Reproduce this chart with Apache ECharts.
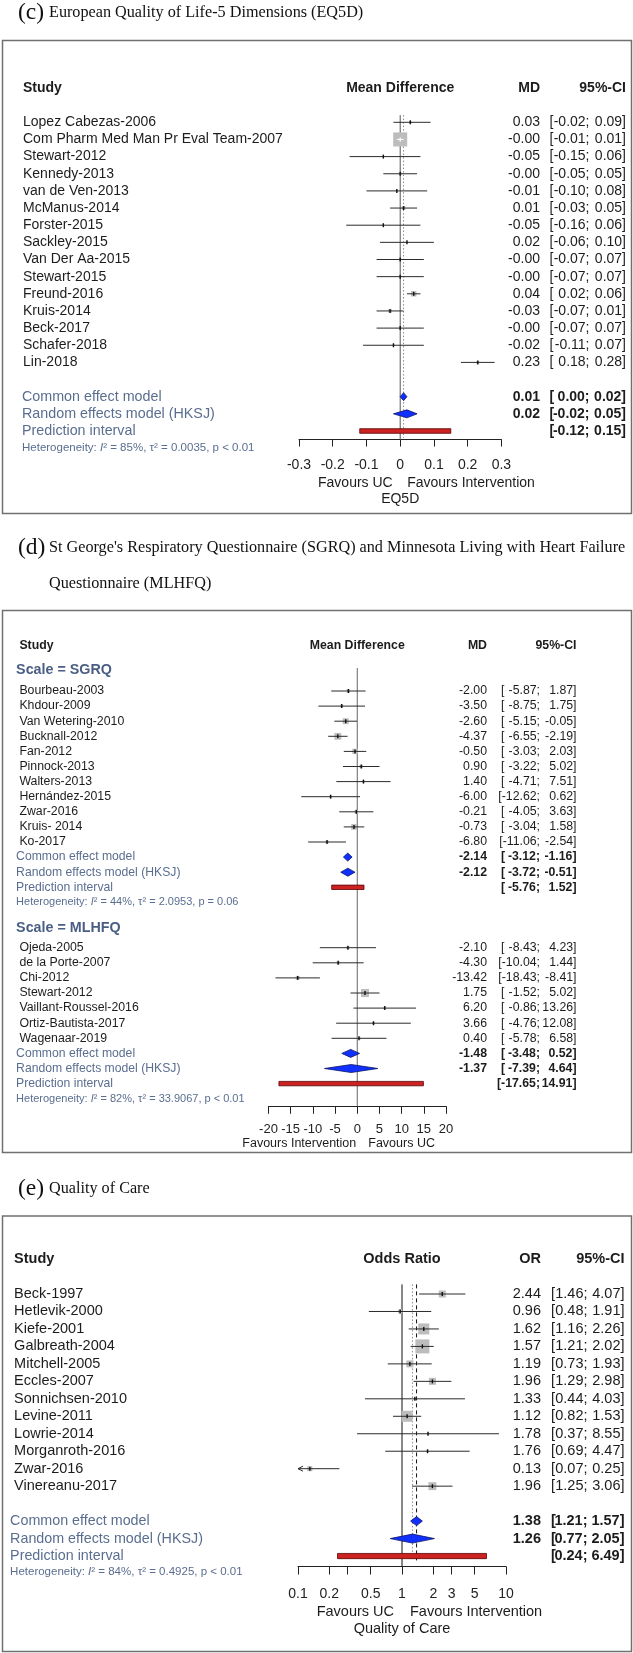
<!DOCTYPE html>
<html>
<head>
<meta charset="utf-8">
<script src="https://cdn.jsdelivr.net/npm/echarts@6/dist/echarts.min.js"></script>
<style>
html,body{margin:0;padding:0;background:#fff;}
#chart{width:633px;height:1653px;}
</style>
</head>
<body>
<div id="chart"></div>
<script>
// ---------------- Panel (c) EQ5D ----------------
const cStudies = ['Lopez Cabezas-2006','Com Pharm Med Man Pr Eval Team-2007','Stewart-2012','Kennedy-2013','van de Ven-2013','McManus-2014','Forster-2015','Sackley-2015','Van Der Aa-2015','Stewart-2015','Freund-2016','Kruis-2014','Beck-2017','Schafer-2018','Lin-2018'];
const cMD      = [0.03, -0.00, -0.05, -0.00, -0.01, 0.01, -0.05, 0.02, -0.00, -0.00, 0.04, -0.03, -0.00, -0.02, 0.23];
const cLower   = [-0.02, -0.01, -0.15, -0.05, -0.10, -0.03, -0.16, -0.06, -0.07, -0.07, 0.02, -0.07, -0.07, -0.11, 0.18];
const cUpper   = [0.09, 0.01, 0.06, 0.05, 0.08, 0.05, 0.06, 0.10, 0.07, 0.07, 0.06, 0.01, 0.07, 0.07, 0.28];
const cWeights = [2.1, 62.2, 0.6, 2.5, 0.8, 3.9, 0.5, 1.0, 1.3, 1.3, 9.5, 3.9, 1.3, 0.8, 2.5];
const cSummaryLabels = ['Common effect model','Random effects model (HKSJ)','Prediction interval'];
const cSummaryEst   = [0.01, 0.02, null];
const cSummaryLower = [0.00, -0.02, -0.12];
const cSummaryUpper = [0.02, 0.05, 0.15];
const cHeterogeneity = ['85%', '0.0035', 'p < 0.01'];
const cTickLabels = [-0.3, -0.2, -0.1, 0, 0.1, 0.2, 0.3];

// ---------------- Panel (d) SGRQ / MLHFQ ----------------
const dSgrqStudies = ['Bourbeau-2003','Khdour-2009','Van Wetering-2010','Bucknall-2012','Fan-2012','Pinnock-2013','Walters-2013','Hernández-2015','Zwar-2016','Kruis- 2014','Ko-2017'];
const dSgrqMD      = [-2.00, -3.50, -2.60, -4.37, -0.50, 0.90, 1.40, -6.00, -0.21, -0.73, -6.80];
const dSgrqLower   = [-5.87, -8.75, -5.15, -6.55, -3.03, -3.22, -4.71, -12.62, -4.05, -3.04, -11.06];
const dSgrqUpper   = [1.87, 1.75, -0.05, -2.19, 2.03, 5.02, 7.51, 0.62, 3.63, 1.58, -2.54];
const dSgrqWeights = [4, 3, 12, 16, 10, 4, 2, 2, 4, 11, 3];
const dSgrqSummaryEst   = [-2.14, -2.12, null];
const dSgrqSummaryLower = [-3.12, -3.72, -5.76];
const dSgrqSummaryUpper = [-1.16, -0.51, 1.52];
const dSgrqHeterogeneity = ['44%', '2.0953', 'p = 0.06'];

const dMlhfqStudies = ['Ojeda-2005','de la Porte-2007','Chi-2012','Stewart-2012','Vaillant-Roussel-2016','Ortiz-Bautista-2017','Wagenaar-2019'];
const dMlhfqMD      = [-2.10, -4.30, -13.42, 1.75, 6.20, 3.66, 0.40];
const dMlhfqLower   = [-8.43, -10.04, -18.43, -1.52, -0.86, -4.76, -5.78];
const dMlhfqUpper   = [4.23, 1.44, -8.41, 5.02, 13.26, 12.08, 6.58];
const dMlhfqWeights = [3, 3, 5, 22, 2, 2, 3];
const dMlhfqSummaryEst   = [-1.48, -1.37, null];
const dMlhfqSummaryLower = [-3.48, -7.39, -17.65];
const dMlhfqSummaryUpper = [0.52, 4.64, 14.91];
const dMlhfqHeterogeneity = ['82%', '33.9067', 'p < 0.01'];
const dSubgroups = ['Scale = SGRQ', 'Scale = MLHFQ'];

// ---------------- Panel (e) Quality of Care ----------------
const eStudies = ['Beck-1997','Hetlevik-2000','Kiefe-2001','Galbreath-2004','Mitchell-2005','Eccles-2007','Sonnichsen-2010','Levine-2011','Lowrie-2014','Morganroth-2016','Zwar-2016','Vinereanu-2017'];
const eOR      = [2.44, 0.96, 1.62, 1.57, 1.19, 1.96, 1.33, 1.12, 1.78, 1.76, 0.13, 1.96];
const eLower   = [1.46, 0.48, 1.16, 1.21, 0.73, 1.29, 0.44, 0.82, 0.37, 0.69, 0.07, 1.25];
const eUpper   = [4.07, 1.91, 2.26, 2.02, 1.93, 2.98, 4.03, 1.53, 8.55, 4.47, 0.25, 3.06];
const eWeights = [7.0, 2.3, 17.2, 27.9, 7.0, 7.0, 0.6, 17.2, 0.6, 0.6, 3.6, 9.1];
const eSummaryEst   = [1.38, 1.26, null];
const eSummaryLower = [1.21, 0.77, 0.24];
const eSummaryUpper = [1.57, 2.05, 6.49];
const eHeterogeneity = ['84%', '0.4925', 'p < 0.01'];
const eTicks      = [0.1, 0.2, 0.3, 0.5, 1, 2, 3, 5, 10];
const eTickLabels = [0.1, 0.2, 0.5, 1, 2, 3, 5, 10];

const summaryLabels = ['Common effect model','Random effects model (HKSJ)','Prediction interval'];

// ---------------- styling ----------------
const FONT = '"Liberation Sans", Arial, Helvetica, sans-serif';
const SERIF = '"Liberation Serif", "Times New Roman", Times, serif';
const INK = '#1c1c1c';
const SLATE = '#5a6e90';
const SLATE_DARK = '#4a5e84';
const BOX_FILL = '#bdbdbd';
const DIAMOND_FILL = '#1030ff';
const DIAMOND_STROKE = '#0a1466';
const PRED_FILL = '#cc2222';
const PRED_STROKE = '#5a0000';
const TITLE_FS = 16.2;

function fmt(v) {
  const neg = v < 0 || Object.is(v, -0);
  return (neg ? '-' : '') + Math.abs(v).toFixed(2);
}
function txt(x, y, text, align, size, color, weight) {
  return {type: 'text', x: x, y: y, silent: true,
    style: {text: text, fill: color || INK, fontSize: size, fontFamily: FONT,
      fontWeight: weight || 'normal', align: align || 'left', verticalAlign: 'middle'}};
}
function ciParts(L, y, lo, hi, bold) {
  const w = bold ? 'bold' : 'normal';
  const loS = fmt(lo), hiS = fmt(hi);
  const out = [];
  if (loS.length >= 6) {
    out.push(txt(L.ciLo, y, '[' + loS + ';', 'right', L.fs, INK, w));
  } else {
    out.push(txt(L.ciOpen, y, '[', 'left', L.fs, INK, w));
    out.push(txt(L.ciLo, y, loS + ';', 'right', L.fs, INK, w));
  }
  out.push(txt(L.ciHi, y, hiS + ']', 'right', L.fs, INK, w));
  return out;
}
function hetText(x, y, vals, fs) {
  return {type: 'text', x: x, y: y, silent: true,
    style: {text: 'Heterogeneity: {it|I}² = ' + vals[0] + ', τ² = ' + vals[1] + ', ' + vals[2],
      fill: SLATE, fontSize: fs, fontFamily: FONT, align: 'left', verticalAlign: 'middle',
      rich: {it: {fontStyle: 'italic', fontSize: fs, fontFamily: FONT, fill: SLATE}}}};
}

// ---------------- layout per panel (pixel layout only) ----------------
const LC = {gi: 0, y0: 122.3, step: 17.15, ymin: -2.5, ymax: 18.5, left: 299, width: 202.4,
  xmin: -0.3, xmax: 0.3, ref: 0, nameX: 23, sumX: 22, estRight: 540, ciOpen: 549.5, ciLo: 589.5, ciHi: 626,
  fs: 14, sumFs: 14.3, hetFs: 11.5, hdrFs: 14, headerRow: -2, refTop: -0.42, refColor: '#555',
  maxBox: 14, minBox: 1.6, dh: 4, ph: 2.3};
const LD = {gi: 1, y0: 691, step: 15.1, ymin: -3.5, ymax: 27.5, left: 268.5, width: 177.5,
  xmin: -20, xmax: 20, ref: 0, nameX: 19.4, sumX: 16.1, estRight: 487, ciOpen: 501, ciLo: 540, ciHi: 576.5,
  fs: 12.3, sumFs: 12.2, hetFs: 11, hdrFs: 12.3, headerRow: -3, refTop: -1.52, refColor: '#666',
  maxBox: 8, minBox: 1.6, dh: 4, ph: 2.2};
const LE = {gi: 2, y0: 1294, step: 17.47, ymin: -2.5, ymax: 15.6, left: 298, width: 208,
  xmin: -1, xmax: 1, ref: 0, nameX: 14.1, sumX: 10.1, estRight: 541, ciOpen: 551, ciLo: 587.5, ciHi: 624.5,
  fs: 14.5, sumFs: 14.3, hetFs: 11.5, hdrFs: 14.5, headerRow: -2, refTop: -0.55, refColor: '#111',
  maxBox: 14, minBox: 1.6, dh: 4.5, ph: 2.6};

// ---------------- panel definitions ----------------
const PC = {log: false, names: cStudies, est: cMD, lo: cLower, hi: cUpper, w: cWeights,
  rows: cStudies.map((_, i) => i),
  sumEst: cSummaryEst, sumLo: cSummaryLower, sumHi: cSummaryUpper, sumLabels: cSummaryLabels,
  sumRows: [16, 17, 18], sumKind: [0, 1, 2],
  het: [{row: 19, vals: cHeterogeneity}], groups: [],
  effectLabel: 'Mean Difference', estLabel: 'MD',
  refLines: [{v: cSummaryEst[0], dash: [1.5, 2], color: '#8a8a8a', bottom: 18.4}],
  fav: {left: 'Favours UC', right: 'Favours Intervention', row: 21.03, gapL: 7.5, gapR: 7, title: 'EQ5D', titleRow: 21.97, fs: 14}};

const dGap = 17;
const PD = {log: false,
  names: dSgrqStudies.concat(dMlhfqStudies),
  est: dSgrqMD.concat(dMlhfqMD), lo: dSgrqLower.concat(dMlhfqLower), hi: dSgrqUpper.concat(dMlhfqUpper),
  w: dSgrqWeights.concat(dMlhfqWeights),
  rows: dSgrqStudies.map((_, i) => i).concat(dMlhfqStudies.map((_, i) => dGap + i)),
  sumEst: dSgrqSummaryEst.concat(dMlhfqSummaryEst),
  sumLo: dSgrqSummaryLower.concat(dMlhfqSummaryLower),
  sumHi: dSgrqSummaryUpper.concat(dMlhfqSummaryUpper),
  sumLabels: summaryLabels.concat(summaryLabels),
  sumRows: [11, 12, 13, dGap + 7, dGap + 8, dGap + 9], sumKind: [0, 1, 2, 0, 1, 2],
  het: [{row: 14, vals: dSgrqHeterogeneity}, {row: dGap + 10, vals: dMlhfqHeterogeneity}],
  groups: [{label: dSubgroups[0], row: -1.4}, {label: dSubgroups[1], row: 15.72}],
  effectLabel: 'Mean Difference', estLabel: 'MD', refLines: [],
  fav: {left: 'Favours Intervention', right: 'Favours UC', row: 29.97, gapL: 1, gapR: 11, title: null, fs: 12.5}};

const PE = {log: true, names: eStudies, est: eOR, lo: eLower, hi: eUpper, w: eWeights,
  rows: eStudies.map((_, i) => i),
  sumEst: eSummaryEst, sumLo: eSummaryLower, sumHi: eSummaryUpper, sumLabels: summaryLabels,
  sumRows: [13, 14, 15], sumKind: [0, 1, 2],
  het: [{row: 15.9, vals: eHeterogeneity}], groups: [],
  effectLabel: 'Odds Ratio', estLabel: 'OR',
  refLines: [{v: Math.log10(eSummaryEst[1]), dash: [1.5, 2], color: '#8a8a8a', bottom: 15.25},
             {v: Math.log10(eSummaryEst[0]), dash: [4, 3], color: '#111', bottom: 15.25}],
  fav: {left: 'Favours UC', right: 'Favours Intervention', row: 18.2, gapL: 8, gapR: 8, title: 'Quality of Care', titleRow: 19.18, fs: 14.5}};

// ---------------- series builders ----------------
function buildSeries(L, P) {
  const tx = v => (P.log ? Math.log10(v) : v);
  const wMax = Math.max.apply(null, P.w);
  const studyData = P.est.map((e, i) => [tx(e), tx(P.lo[i]), tx(P.hi[i]), P.rows[i], P.w[i], i]);
  const sumData = P.sumLo.map((lo, k) => [tx(P.sumEst[k] == null ? lo : P.sumEst[k]), tx(lo), tx(P.sumHi[k]), P.sumRows[k], P.sumKind[k], k]);
  const base = {type: 'custom', coordinateSystem: 'cartesian2d', xAxisIndex: L.gi, yAxisIndex: L.gi,
    silent: true, clip: false, animation: false};

  const studies = Object.assign({}, base, {
    data: studyData, encode: {x: [0, 1, 2], y: 3}, z: 3,
    renderItem: function (params, api) {
      const i = api.value(5), row = api.value(3);
      const e = api.value(0), lo = api.value(1), hi = api.value(2);
      const y = api.coord([L.ref, row])[1];
      const xe = api.coord([e, row])[0];
      const xl = api.coord([Math.max(lo, L.xmin), row])[0];
      const xh = api.coord([Math.min(hi, L.xmax), row])[0];
      const s = Math.max(L.minBox, L.maxBox * Math.sqrt(api.value(4) / wMax));
      const inside = xl >= xe - s / 2 && xh <= xe + s / 2;
      const lineCol = inside ? '#ffffff' : '#2b2b2b';
      const ch = [];
      ch.push({type: 'rect', shape: {x: xe - s / 2, y: y - s / 2, width: s, height: s}, style: {fill: BOX_FILL}});
      ch.push({type: 'line', shape: {x1: xl, y1: y, x2: xh, y2: y}, style: {stroke: lineCol, lineWidth: 1}});
      ch.push({type: 'line', shape: {x1: xe, y1: y - 2, x2: xe, y2: y + 2}, style: {stroke: inside ? '#ffffff' : '#111', lineWidth: 1.4}});
      if (lo < L.xmin) {
        ch.push({type: 'polyline', shape: {points: [[xl + 5, y - 2.5], [xl, y], [xl + 5, y + 2.5]]}, style: {stroke: '#2b2b2b', fill: null, lineWidth: 1}});
      }
      ch.push(txt(L.nameX, y, P.names[i], 'left', L.fs, INK));
      ch.push(txt(L.estRight, y, fmt(P.est[i]), 'right', L.fs, INK));
      ciParts(L, y, P.lo[i], P.hi[i], false).forEach(t => ch.push(t));
      return {type: 'group', children: ch};
    }
  });

  const summary = Object.assign({}, base, {
    data: sumData, encode: {x: [0, 1, 2], y: 3}, z: 4,
    renderItem: function (params, api) {
      const k = api.value(5), row = api.value(3), kind = api.value(4);
      const y = api.coord([L.ref, row])[1];
      const xl = api.coord([api.value(1), row])[0];
      const xh = api.coord([api.value(2), row])[0];
      const ch = [];
      if (kind < 2) {
        const xe = api.coord([api.value(0), row])[0];
        ch.push({type: 'polygon', shape: {points: [[xl, y], [xe, y - L.dh], [xh, y], [xe, y + L.dh]]},
          style: {fill: DIAMOND_FILL, stroke: DIAMOND_STROKE, lineWidth: 0.8}});
        ch.push(txt(L.estRight, y, fmt(P.sumEst[k]), 'right', L.fs, INK, 'bold'));
      } else {
        ch.push({type: 'rect', shape: {x: xl, y: y - L.ph, width: xh - xl, height: 2 * L.ph},
          style: {fill: PRED_FILL, stroke: PRED_STROKE, lineWidth: 0.8}});
      }
      ch.push(txt(L.sumX, y, P.sumLabels[k], 'left', L.sumFs, SLATE));
      ciParts(L, y, P.sumLo[k], P.sumHi[k], true).forEach(t => ch.push(t));
      return {type: 'group', children: ch};
    }
  });

  const frame = Object.assign({}, base, {
    data: [[L.ref, 0]], encode: {x: 0, y: 1}, z: 2,
    renderItem: function (params, api) {
      const yOf = r => api.coord([L.ref, r])[1];
      const xOf = v => api.coord([v, 0])[0];
      const xr = xOf(L.ref);
      const ch = [];
      const yh = yOf(L.headerRow);
      ch.push(txt(L.nameX, yh, 'Study', 'left', L.hdrFs, INK, 'bold'));
      ch.push(txt(xr, yh, P.effectLabel, 'center', L.hdrFs, INK, 'bold'));
      ch.push(txt(L.estRight, yh, P.estLabel, 'right', L.hdrFs, INK, 'bold'));
      ch.push(txt(L.ciHi, yh, '95%-CI', 'right', L.hdrFs, INK, 'bold'));
      ch.push({type: 'line', shape: {x1: xr, y1: yOf(L.refTop), x2: xr, y2: yOf(L.ymax)},
        style: {stroke: L.refColor, lineWidth: 1}});
      P.refLines.forEach(r => {
        const x = xOf(r.v);
        ch.push({type: 'line', shape: {x1: x, y1: yOf(L.refTop), x2: x, y2: yOf(r.bottom)},
          style: {stroke: r.color, lineWidth: 1, lineDash: r.dash}});
      });
      P.het.forEach(h => ch.push(hetText(L.sumX, yOf(h.row), h.vals, L.hetFs)));
      P.groups.forEach(g => ch.push(txt(L.sumX, yOf(g.row), g.label, 'left', 14.3, SLATE_DARK, 'bold')));
      const f = P.fav;
      ch.push(txt(xr - f.gapL, yOf(f.row), f.left, 'right', f.fs, INK));
      ch.push(txt(xr + f.gapR, yOf(f.row), f.right, 'left', f.fs, INK));
      if (f.title) ch.push(txt(xr, yOf(f.titleRow), f.title, 'center', f.fs, INK));
      return {type: 'group', children: ch};
    }
  });
  return [frame, studies, summary];
}

function gridOf(L) {
  return {left: L.left, width: L.width, top: L.y0 + L.ymin * L.step, height: (L.ymax - L.ymin) * L.step, containLabel: false};
}
function yAxisOf(L) {
  return {gridIndex: L.gi, type: 'value', inverse: true, min: L.ymin, max: L.ymax, show: false};
}
const axisCommon = {
  axisLine: {show: true, onZero: false, lineStyle: {color: '#222', width: 1}},
  splitLine: {show: false}
};
function titleText(x, y, text, size) {
  return {type: 'text', silent: true, x: x, y: y,
    style: {text: text, fill: '#111', fontSize: size, fontFamily: SERIF, align: 'left', verticalAlign: 'middle'}};
}
function frameRect(y, h) {
  return {type: 'rect', silent: true, shape: {x: 2.5, y: y, width: 629, height: h},
    style: {fill: null, stroke: '#707070', lineWidth: 1.5}};
}

const option = {
  animation: false,
  backgroundColor: '#fff',
  grid: [gridOf(LC), gridOf(LD), gridOf(LE)],
  xAxis: [
    Object.assign({}, axisCommon, {gridIndex: 0, type: 'value', min: cTickLabels[0], max: cTickLabels[cTickLabels.length - 1], interval: 0.1,
      axisTick: {show: true, length: 7, lineStyle: {color: '#222'}},
      axisLabel: {fontSize: 14, color: '#222', margin: 19, fontFamily: FONT, formatter: v => String(Math.round(v * 10) / 10)}}),
    Object.assign({}, axisCommon, {gridIndex: 1, type: 'value', min: -20, max: 20, interval: 5,
      axisTick: {show: true, length: 7.5, lineStyle: {color: '#222'}},
      axisLabel: {fontSize: 13, color: '#222', margin: 16.5, fontFamily: FONT}}),
    Object.assign({}, axisCommon, {gridIndex: 2, type: 'value', min: Math.log10(eTicks[0]), max: Math.log10(eTicks[eTicks.length - 1]),
      axisTick: {show: true, length: 8, lineStyle: {color: '#222'}, customValues: eTicks.map(Math.log10)},
      axisLabel: {fontSize: 14, color: '#222', margin: 20.5, fontFamily: FONT, customValues: eTickLabels.map(Math.log10),
        formatter: v => String(+Math.pow(10, v).toPrecision(2))}})
  ],
  yAxis: [yAxisOf(LC), yAxisOf(LD), yAxisOf(LE)],
  graphic: [
    frameRect(40.5, 473),
    frameRect(610.5, 542),
    frameRect(1216, 435.5),
    titleText(18, 12.5, '(c)', 23.5),
    titleText(49, 13, 'European Quality of Life-5 Dimensions (EQ5D)', TITLE_FS),
    titleText(18, 547.5, '(d)', 23.5),
    titleText(49, 548, "St George's Respiratory Questionnaire (SGRQ) and Minnesota Living with Heart Failure", TITLE_FS),
    titleText(49, 584, 'Questionnaire (MLHFQ)', TITLE_FS),
    titleText(18, 1188.5, '(e)', 23.5),
    titleText(49, 1189, 'Quality of Care', TITLE_FS)
  ],
  series: [].concat(buildSeries(LC, PC), buildSeries(LD, PD), buildSeries(LE, PE))
};

const chart = echarts.init(document.getElementById('chart'), null, {renderer: 'canvas', width: 633, height: 1653});
chart.setOption(option);
</script>
</body>
</html>
